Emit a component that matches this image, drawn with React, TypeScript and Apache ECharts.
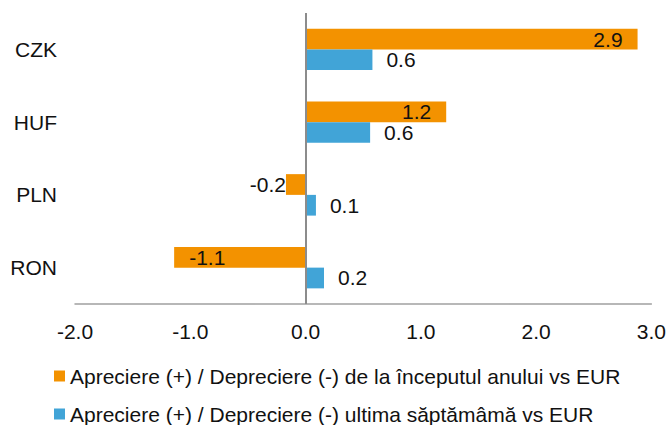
import React, { useEffect, useRef } from "react";
import * as echarts from "echarts";

const categories = ["CZK", "HUF", "PLN", "RON"];
const ytdValues = [2.88, 1.22, -0.17, -1.14];
const weekValues = [0.58, 0.56, 0.09, 0.16];
const seriesNames = [
  "Apreciere (+) / Depreciere (-) de la începutul anului vs EUR",
  "Apreciere (+) / Depreciere (-) ultima săptămâmă vs EUR",
];
const xMin = -2;
const xMax = 3;
const xStep = 1;

const FONT = "'Liberation Sans', Arial, sans-serif";
const TEXT = "#111111";
const ORANGE = "#F39200";
const BLUE = "#41A4D7";
const FS = 21;

export default function App() {
  const ref = useRef<HTMLDivElement>(null);
  useEffect(() => {
    if (!ref.current) return;
    const chart = echarts.init(ref.current, null, { renderer: "svg" });
    const fmt = (p: any) => Number(p.value).toFixed(1);
    const legendBase = {
      orient: "horizontal",
      left: 54,
      padding: 0,
      itemWidth: 11,
      itemHeight: 11,
      icon: "rect",
      textStyle: { fontSize: FS, lineHeight: 22, color: TEXT, fontFamily: FONT, padding: [0, 0, 0, 0] },
    };
    chart.setOption({
      animation: false,
      textStyle: { fontFamily: FONT },
      grid: { left: 75, right: 17, top: 13, bottom: 121, containLabel: false },
      xAxis: {
        type: "value",
        min: xMin,
        max: xMax,
        interval: xStep,
        axisLine: { show: true, lineStyle: { color: "#a0a0a0", width: 1.5 } },
        axisTick: { show: false },
        splitLine: { show: false },
        axisLabel: {
          fontSize: FS,
          color: TEXT,
          fontFamily: FONT,
          margin: 17,
          formatter: (v: number) => v.toFixed(1),
        },
      },
      yAxis: {
        type: "category",
        data: categories,
        inverse: true,
        axisLine: { show: false },
        axisTick: { show: false },
        axisLabel: { fontSize: FS, color: TEXT, fontFamily: FONT, margin: 18 },
      },
      legend: [
        { ...legendBase, top: 365, data: [seriesNames[0]] },
        { ...legendBase, top: 403, data: [seriesNames[1]] },
      ],
      series: [
        {
          name: seriesNames[0],
          type: "bar",
          barGap: "0%",
          barCategoryGap: "43%",
          itemStyle: { color: ORANGE },
          label: {
            show: true,
            fontSize: FS,
            color: TEXT,
            fontFamily: FONT,
            formatter: fmt,
          },
          data: ytdValues.map((v) => ({
            value: v,
            label: {
              position: v >= 0 ? "insideRight" : Math.abs(v) < 0.5 ? "left" : "insideLeft",
              distance: v >= 0 || Math.abs(v) >= 0.5 ? 15 : 0,
            },
          })),
          markLine: {
            silent: true,
            symbol: ["none", "none"],
            label: { show: false },
            lineStyle: { color: "#8c8c8c", width: 2, type: "solid" },
            data: [{ xAxis: 0 }],
          },
        },
        {
          name: seriesNames[1],
          type: "bar",
          barGap: "0%",
          barCategoryGap: "43%",
          itemStyle: { color: BLUE },
          label: {
            show: true,
            position: "right",
            distance: 14,
            fontSize: FS,
            color: TEXT,
            fontFamily: FONT,
            formatter: fmt,
          },
          data: weekValues,
        },
      ],
    });
    return () => chart.dispose();
  }, []);
  return (
    <div
      ref={ref}
      style={{ position: "fixed", left: 0, top: 0, width: 669, height: 425, background: "#fff" }}
    />
  );
}
